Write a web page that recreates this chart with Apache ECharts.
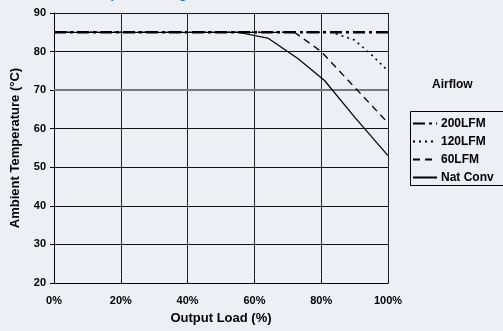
<!DOCTYPE html>
<html><head><meta charset="utf-8">
<script src="https://cdn.jsdelivr.net/npm/echarts@6/dist/echarts.min.js"></script>
<style>html,body{margin:0;padding:0;background:#eeeff5;}#c{width:503px;height:331px;}</style>
</head><body><div id="c"></div>
<script>
const xTicks = [0, 20, 40, 60, 80, 100];
const yTicks = [20, 30, 40, 50, 60, 70, 80, 90];
const seriesNames = ['200LFM', '120LFM', '60LFM', 'Nat Conv'];
const lfm200 = [[0, 85], [100, 85]];
const lfm120 = [[0, 85], [83, 85], [90, 83], [95, 79.2], [100, 75]];
const lfm60 = [[0, 85], [72, 85], [80, 80], [100, 61.5]];
const natConv = [[0, 85], [55, 85], [64, 83.5], [73, 78.2], [81, 72.5], [90, 63], [100, 53]];

const font = 'Liberation Sans, Arial, sans-serif';
const chart = echarts.init(document.getElementById('c'), null, {renderer: 'canvas'});
const lineSer = (name, data, type, width, z) => ({
  name, type: 'line', data, symbol: 'none', z,
  lineStyle: {color: '#000', width, type},
  itemStyle: {color: '#000'}
});
chart.setOption({
  backgroundColor: '#eeeff5',
  animation: false,
  grid: {left: 54, right: 115, top: 13, bottom: 48},
  graphic: [
    {type: 'text', left: 88, top: -12, z: 100, style: {
      text: 'Output Derating Curve at V{s|IN}', fill: '#1a73c9',
      font: 'bold 13px ' + font,
      rich: {s: {fontSize: 9, fontWeight: 'bold', fill: '#1a73c9', padding: [6, 0, 0, 0]}}
    }},
    {type: 'text', left: 432, top: 79, style: {text: 'Airflow', fill: '#000', font: 'bold 12px ' + font}},
    {type: 'rect', shape: {x: 410.5, y: 111.5, width: 120, height: 74}, style: {fill: 'none', stroke: '#000', lineWidth: 1}}
  ],
  legend: {
    orient: 'vertical', left: 407, top: 112,
    data: seriesNames,
    itemWidth: 24, itemHeight: 10, itemGap: 5,
    itemStyle: {opacity: 0},
    textStyle: {fontFamily: font, fontWeight: 'bold', fontSize: 12, color: '#000', padding: [0, 0, 0, -1], lineHeight: 13}
  },
  xAxis: {
    type: 'value', min: 0, max: 100, interval: 20,
    name: 'Output Load (%)', nameLocation: 'middle', nameGap: 29,
    nameTextStyle: {fontFamily: font, fontWeight: 'bold', fontSize: 13, color: '#000'},
    axisLine: {show: true, lineStyle: {color: '#000', width: 1}},
    axisTick: {show: true, inside: true, length: 4, lineStyle: {color: '#000'}},
    axisLabel: {formatter: v => v + '%', fontFamily: font, fontWeight: 'bold', fontSize: 11, color: '#000', margin: 12},
    splitLine: {show: true, lineStyle: {color: '#222', width: 1}}
  },
  yAxis: {
    type: 'value', min: 20, max: 90, interval: 10,
    name: 'Ambient Temperature (°C)', nameLocation: 'middle', nameGap: 32, nameRotate: 90,
    nameTextStyle: {fontFamily: font, fontWeight: 'bold', fontSize: 13, color: '#000'},
    axisLine: {show: true, lineStyle: {color: '#000', width: 1}},
    axisTick: {show: true, length: 4, lineStyle: {color: '#000'}},
    axisLabel: {fontFamily: font, fontWeight: 'bold', fontSize: 11, color: '#000', margin: 8},
    splitLine: {show: true, lineStyle: {color: '#111', width: 1}}
  },
  series: [
    Object.assign(lineSer('200LFM', lfm200, [12, 4, 3, 4], 2.5, 10), {
      markLine: {silent: true, symbol: 'none', label: {show: false},
        lineStyle: {color: '#7a7a7a', width: 2, type: 'solid'}, data: [{yAxis: yTicks[5]}]}
    }),
    lineSer('120LFM', lfm120, [2, 4], 1.5, 5),
    lineSer('60LFM', lfm60, [7, 5], 1.3, 5),
    lineSer('Nat Conv', natConv, 'solid', 1.2, 5)
  ]
});
</script></body></html>
